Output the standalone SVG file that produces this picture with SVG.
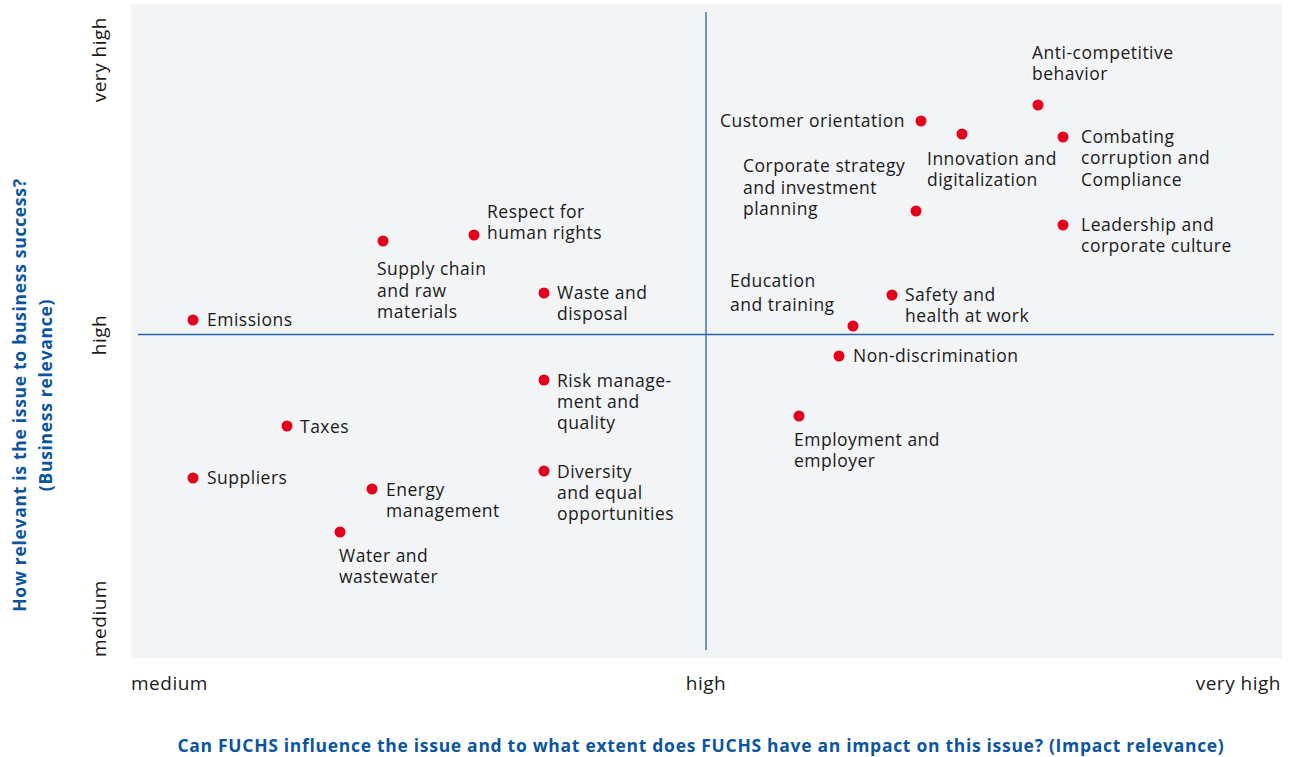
<svg xmlns="http://www.w3.org/2000/svg" width="1303" height="757" viewBox="0 0 1303 757">
<style>
.lbl{font-family:"Open Sans","Liberation Sans",sans-serif;font-size:17.5px;letter-spacing:0.5px;fill:#1a1a1a}
.ax{font-family:"Open Sans","Liberation Sans",sans-serif;font-size:19px;letter-spacing:0.5px;fill:#1a1a1a}
.ttl{font-family:"Open Sans","Liberation Sans",sans-serif;font-size:17.5px;letter-spacing:0.7px;font-weight:bold;fill:#0b55a0}
.dot{fill:#e2001a}
.axis{stroke:#2563ad;stroke-width:1.3;fill:none}
</style>
<rect x="0" y="0" width="1303" height="757" fill="#ffffff"/>
<rect x="131" y="4" width="1151" height="654" fill="#f3f4f6"/>
<g id="axes">
<line class="axis" x1="706" y1="12" x2="706" y2="650"/>
<line class="axis" x1="138" y1="334.5" x2="1274" y2="334.5"/>
</g>
<g id="axis-labels">
<text class="ax" x="131" y="690">medium</text>
<text class="ax" x="706" y="690" text-anchor="middle">high</text>
<text class="ax" x="1281" y="690" text-anchor="end">very high</text>
<text class="ax" transform="translate(106,17) rotate(-90)" text-anchor="end">very high</text>
<text class="ax" transform="translate(106,335) rotate(-90)" text-anchor="middle">high</text>
<text class="ax" transform="translate(106,657) rotate(-90)">medium</text>
<text class="ttl" transform="translate(26,395) rotate(-90)" text-anchor="middle">How relevant is the issue to business success?</text>
<text class="ttl" transform="translate(52,395) rotate(-90)" text-anchor="middle">(Business relevance)</text>
<text class="ttl" x="701" y="752" text-anchor="middle">Can FUCHS influence the issue and to what extent does FUCHS have an impact on this issue? (Impact relevance)</text>
</g>
<g id="n-anti"><circle class="dot" cx="1038" cy="105" r="5.5"/><text class="lbl" x="1032" y="59">Anti-competitive<tspan x="1032" dy="21">behavior</tspan></text></g>
<g id="n-customer"><circle class="dot" cx="921" cy="121" r="5.5"/><text class="lbl" x="905" y="127" text-anchor="end">Customer orientation</text></g>
<g id="n-innovation"><circle class="dot" cx="962" cy="134" r="5.5"/><text class="lbl" x="927" y="165">Innovation and<tspan x="927" dy="21">digitalization</tspan></text></g>
<g id="n-combating"><circle class="dot" cx="1063" cy="137" r="5.5"/><text class="lbl" x="1081" y="143">Combating<tspan x="1081" dy="21">corruption and</tspan><tspan x="1081" dy="22">Compliance</tspan></text></g>
<g id="n-strategy"><circle class="dot" cx="916" cy="211" r="5.5"/><text class="lbl" x="743" y="172">Corporate strategy<tspan x="743" dy="22">and investment</tspan><tspan x="743" dy="21">planning</tspan></text></g>
<g id="n-leadership"><circle class="dot" cx="1063" cy="225" r="5.5"/><text class="lbl" x="1081" y="231">Leadership and<tspan x="1081" dy="21">corporate culture</tspan></text></g>
<g id="n-human"><circle class="dot" cx="474" cy="235" r="5.5"/><text class="lbl" x="487" y="218">Respect for<tspan x="487" dy="21">human rights</tspan></text></g>
<g id="n-supply"><circle class="dot" cx="383" cy="241" r="5.5"/><text class="lbl" x="377" y="275">Supply chain<tspan x="377" dy="22">and raw</tspan><tspan x="377" dy="21">materials</tspan></text></g>
<g id="n-waste"><circle class="dot" cx="544" cy="293" r="5.5"/><text class="lbl" x="557" y="299">Waste and<tspan x="557" dy="21">disposal</tspan></text></g>
<g id="n-emissions"><circle class="dot" cx="193" cy="320" r="5.5"/><text class="lbl" x="207" y="326">Emissions</text></g>
<g id="n-education"><circle class="dot" cx="853" cy="326" r="5.5"/><text class="lbl" x="730" y="287">Education<tspan x="730" dy="24">and training</tspan></text></g>
<g id="n-safety"><circle class="dot" cx="892" cy="295" r="5.5"/><text class="lbl" x="905" y="301">Safety and<tspan x="905" dy="21">health at work</tspan></text></g>
<g id="n-nondisc"><circle class="dot" cx="839" cy="356" r="5.5"/><text class="lbl" x="853" y="362">Non-discrimination</text></g>
<g id="n-employment"><circle class="dot" cx="799" cy="416" r="5.5"/><text class="lbl" x="794" y="446">Employment and<tspan x="794" dy="21">employer</tspan></text></g>
<g id="n-risk"><circle class="dot" cx="544" cy="380" r="5.5"/><text class="lbl" x="557" y="387">Risk manage-<tspan x="557" dy="21">ment and</tspan><tspan x="557" dy="21">quality</tspan></text></g>
<g id="n-taxes"><circle class="dot" cx="287" cy="426" r="5.5"/><text class="lbl" x="300" y="433">Taxes</text></g>
<g id="n-suppliers"><circle class="dot" cx="193" cy="478" r="5.5"/><text class="lbl" x="207" y="484">Suppliers</text></g>
<g id="n-energy"><circle class="dot" cx="372" cy="489" r="5.5"/><text class="lbl" x="386" y="496">Energy<tspan x="386" dy="21">management</tspan></text></g>
<g id="n-diversity"><circle class="dot" cx="544" cy="471" r="5.5"/><text class="lbl" x="557" y="478">Diversity<tspan x="557" dy="21">and equal</tspan><tspan x="557" dy="21">opportunities</tspan></text></g>
<g id="n-water"><circle class="dot" cx="340" cy="532" r="5.5"/><text class="lbl" x="339" y="562">Water and<tspan x="339" dy="21">wastewater</tspan></text></g>
</svg>
